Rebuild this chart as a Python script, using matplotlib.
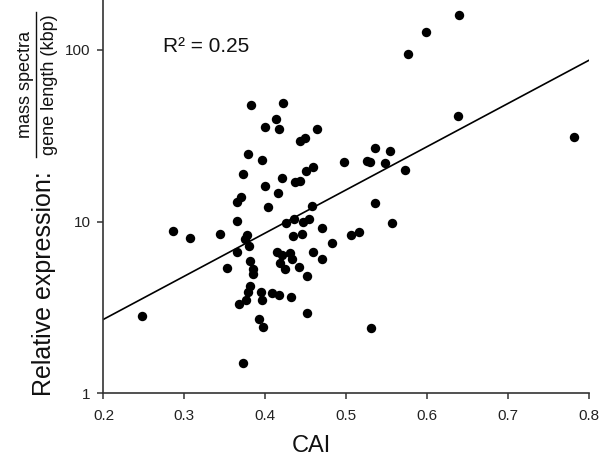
import matplotlib
matplotlib.use("Agg")
import matplotlib.pyplot as plt
import numpy as np
from matplotlib.lines import Line2D

plt.rcParams['font.family'] = ['Liberation Sans', 'DejaVu Sans']

# Data
cai = [0.248, 0.286, 0.307, 0.344, 0.3655, 0.365, 0.370, 0.373, 0.379, 0.382,
       0.377, 0.375, 0.380, 0.3648, 0.3524, 0.381, 0.3846, 0.3853, 0.381, 0.379,
       0.376, 0.368, 0.3949, 0.3965, 0.408, 0.4171, 0.4316, 0.4514, 0.3924, 0.3977,
       0.3726, 0.4143, 0.4208, 0.4313, 0.4332, 0.4184, 0.4245, 0.4422, 0.4514, 0.4344,
       0.4452, 0.4258, 0.4357, 0.4468, 0.4542, 0.4576, 0.4039, 0.4155, 0.4002, 0.4212,
       0.4369, 0.4425, 0.4505, 0.4588, 0.3961, 0.4002, 0.4130, 0.4175, 0.4221, 0.4645,
       0.4435, 0.4489, 0.4709, 0.4586, 0.4707, 0.4831, 0.5062, 0.5167, 0.4975, 0.5254,
       0.5295, 0.5356, 0.5544, 0.5485, 0.5736, 0.5356, 0.5563, 0.5313, 0.5771, 0.5986,
       0.6402, 0.6382, 0.7821]
expression = [2.82, 8.83, 8.04, 8.45, 10.1, 13.0, 14.0, 18.9, 24.7, 48.0,
              8.36, 7.93, 7.22, 6.66, 5.34, 5.87, 5.27, 4.96, 4.22, 3.91,
              3.50, 3.33, 3.91, 3.52, 3.82, 3.73, 3.63, 2.93, 2.71, 2.42,
              1.51, 6.66, 6.36, 6.57, 6.04, 5.72, 5.32, 5.45, 4.83, 8.20,
              8.42, 9.76, 10.3, 10.0, 10.4, 12.4, 12.1, 14.6, 16.2, 17.9,
              17.0, 17.3, 19.8, 20.7, 22.7, 35.6, 39.4, 34.7, 49.3, 34.7,
              29.6, 30.6, 9.13, 6.63, 6.04, 7.46, 8.33, 8.74, 22.1, 22.4,
              22.1, 26.7, 25.9, 22.0, 19.9, 12.9, 9.87, 2.41, 95.1, 127.3,
              159.9, 41.3, 31.0]

# Regression line: log10(y) = intercept + slope * x
fit_intercept = -0.071
fit_slope = 2.511
fit_x = [0.2, 0.8]

x_ticks = [0.2, 0.3, 0.4, 0.5, 0.6, 0.7, 0.8]
x_tick_labels = ['0.2', '0.3', '0.4', '0.5', '0.6', '0.7', '0.8']
y_ticks = [1, 10, 100]
y_tick_labels = ['1', '10', '100']
r2_text = 'R² = 0.25'

W, H = 600, 466
fig = plt.figure(figsize=(6.0, 4.66), dpi=100)
ax = fig.add_axes([103.5 / W, 1 - 393.4 / H, (588.5 - 103.5) / W, 393.4 / H])

ax.scatter(cai, expression, s=46, color='black', zorder=3, linewidths=0)
fx = np.array(fit_x)
ax.plot(fx, 10 ** (fit_intercept + fit_slope * fx), color='black', lw=1.2, zorder=2)

ax.set_yscale('log')
ax.set_xlim(0.2, 0.8)
ax.set_ylim(1, 195)
ax.set_xticks(x_ticks)
ax.set_xticklabels(x_tick_labels)
ax.set_yticks(y_ticks)
ax.set_yticklabels(y_tick_labels)
ax.yaxis.set_minor_locator(matplotlib.ticker.NullLocator())

for s in ['top', 'right']:
    ax.spines[s].set_visible(False)
for s in ['left', 'bottom']:
    ax.spines[s].set_color('#333333')
    ax.spines[s].set_linewidth(1.2)
ax.tick_params(axis='both', direction='out', length=4.3, width=1.1, color='#333333',
               labelsize=11, labelcolor='#222222')
ax.tick_params(axis='x', pad=7)
ax.tick_params(axis='y', pad=5)

# R^2 annotation
fig.text(163 / W, 1 - 46 / H, r2_text, fontsize=15, ha='left', va='center', color='#111111')

# x label
fig.text(311 / W, 1 - 446 / H, 'CAI', fontsize=17, ha='center', va='center', color='#111111')

# y label with fraction
fig.text(44.5 / W, 1 - 284 / H, 'Relative expression:', fontsize=18, rotation=90,
         ha='center', va='center', color='#111111')
fig.text(25 / W, 1 - 85 / H, 'mass spectra', fontsize=13, rotation=90,
         ha='center', va='center', color='#111111')
fig.text(50 / W, 1 - 84.5 / H, 'gene length (kbp)', fontsize=13, rotation=90,
         ha='center', va='center', color='#111111')
fig.add_artist(Line2D([36 / W, 36 / W], [1 - 157 / H, 1 - 12 / H], transform=fig.transFigure,
                      color='#111111', lw=1.0))

fig.savefig('out.png', dpi=100)
